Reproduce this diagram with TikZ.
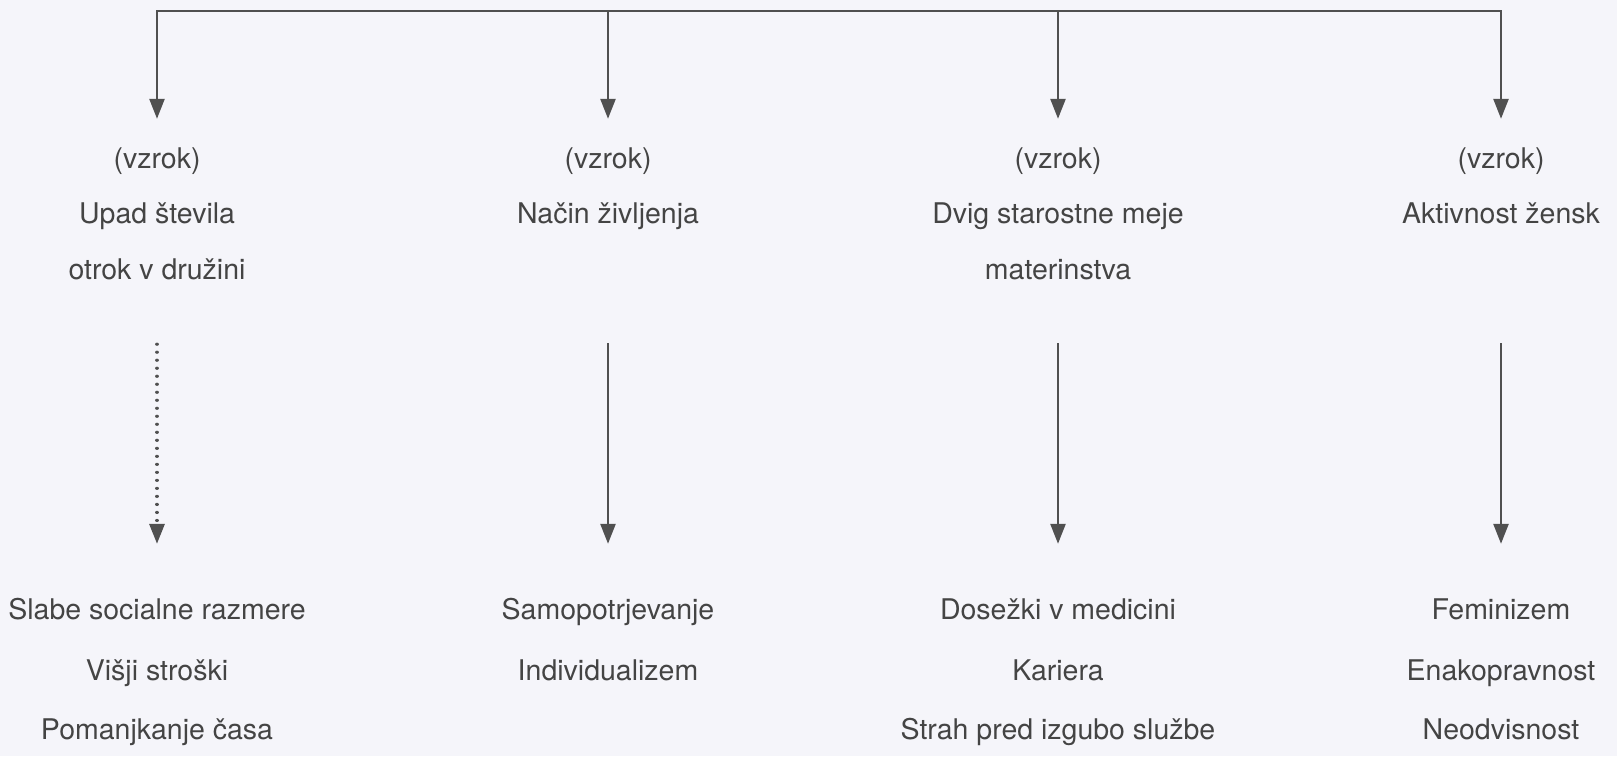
\documentclass[tikz,border=0pt]{standalone}
\usepackage{fontspec}
\setmainfont{TeX Gyre Heros}
\usetikzlibrary{arrows.meta}
\definecolor{bg}{HTML}{F5F5FA}
\definecolor{ink}{HTML}{444444}
\definecolor{linec}{HTML}{505050}
\tikzset{
  txt/.style={anchor=base, inner sep=0pt, text height=20pt, text depth=6pt, text=ink,
    font=\fontsize{28.5}{33}\selectfont},
  conn/.style={draw=linec, line width=2.5pt},
  arr/.style={conn, -{Triangle[length=20pt,width=15pt]}},
  dotarr/.style={arr, dash pattern=on 0.01pt off 8pt, line cap=round, line width=3.2pt}
}
\begin{document}
\begin{tikzpicture}[x=1pt,y=-1pt]
\fill[bg] (0,0) rectangle (1617,756);
\useasboundingbox (0,0) rectangle (1617,756);
\coordinate (top) at (0,11);
% column 1
\node[txt] (v1) at (157,168) {(vzrok)};
\node[txt] (a1) at (157,223) {Upad števila};
\node[txt] (b1) at (157,279) {otrok v družini};
\node[txt] (s1) at (157,619) {Slabe socialne razmere};
\node[txt] (s1b) at (157,680) {Višji stroški};
\node[txt] (s1c) at (157,739) {Pomanjkanje časa};
% column 2
\node[txt] (v2) at (608,168) {(vzrok)};
\node[txt] (a2) at (608,223) {Način življenja};
\node[txt] (s2) at (608,619) {Samopotrjevanje};
\node[txt] (s2b) at (608,680) {Individualizem};
% column 3
\node[txt] (v3) at (1058,168) {(vzrok)};
\node[txt] (a3) at (1058,223) {Dvig starostne meje};
\node[txt] (b3) at (1058,279) {materinstva};
\node[txt] (s3) at (1058,619) {Dosežki v medicini};
\node[txt] (s3b) at (1058,680) {Kariera};
\node[txt] (s3c) at (1058,739) {Strah pred izgubo službe};
% column 4
\node[txt] (v4) at (1501,168) {(vzrok)};
\node[txt] (a4) at (1501,223) {Aktivnost žensk};
\node[txt] (s4) at (1501,619) {Feminizem};
\node[txt] (s4b) at (1501,680) {Enakopravnost};
\node[txt] (s4c) at (1501,739) {Neodvisnost};
% top bar
\draw[conn, line cap=rect] (v1.north |- top) -- (v4.north |- top);
\draw[arr, shorten >=29pt] (v1.north |- top) -- (v1.north);
\draw[arr, shorten >=29pt] (v2.north |- top) -- (v2.north);
\draw[arr, shorten >=29pt] (v3.north |- top) -- (v3.north);
\draw[arr, shorten >=29pt] (v4.north |- top) -- (v4.north);
% middle arrows
\draw[dotarr, shorten <=59pt, shorten >=55pt] (b1.south) -- (s1.north);
\draw[arr, shorten <=114pt, shorten >=55pt] (a2.south) -- (s2.north);
\draw[arr, shorten <=58pt, shorten >=55pt] (b3.south) -- (s3.north);
\draw[arr, shorten <=114pt, shorten >=55pt] (a4.south) -- (s4.north);
\end{tikzpicture}
\end{document}
